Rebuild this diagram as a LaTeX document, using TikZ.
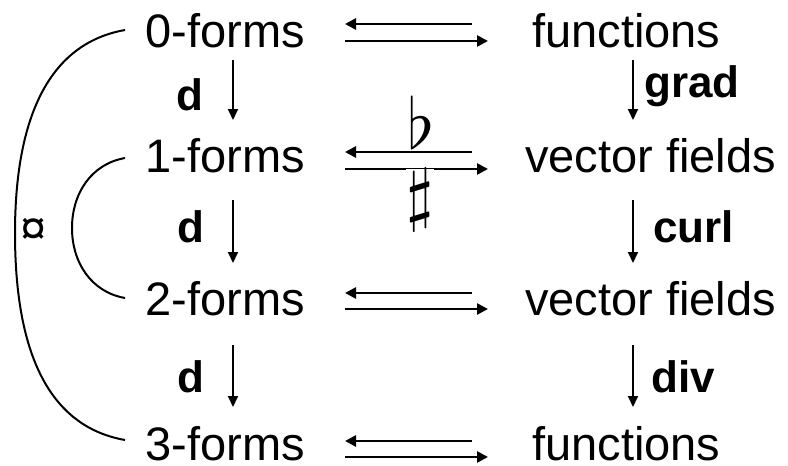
\documentclass[tikz,border=0pt]{standalone}
\usepackage{fontspec}
\setmainfont{Liberation Sans}
\usetikzlibrary{arrows.meta}
\begin{document}
\begin{tikzpicture}[x=1pt,y=-1pt,
  lbl/.style={font=\fontsize{47}{56}\selectfont, inner sep=0pt},
  opl/.style={font=\fontsize{44}{52}\selectfont\bfseries, inner sep=0pt},
  conv/.style={line width=2.6pt, -{Triangle[length=11pt,width=11pt]}},
  dn/.style={line width=2pt, -{Triangle[length=11pt,width=10pt]}},
  bracket/.style={line width=2pt},
  musym/.style={scale=7, inner sep=0pt}]
\useasboundingbox (0,0) rectangle (788,466);
% left column
\node[lbl, anchor=base east] (f0) at (305,47) {0-forms};
\node[lbl, anchor=base east] (f1) at (305,172) {1-forms};
\node[lbl, anchor=base east] (f2) at (305,315) {2-forms};
\node[lbl, anchor=base east] (f3) at (305,460) {3-forms};
% right column
\node[lbl, anchor=base west] (r0) at (532,47) {functions};
\node[lbl, anchor=base west] (r1) at (525,172) {vector fields};
\node[lbl, anchor=base west] (r2) at (525,315) {vector fields};
\node[lbl, anchor=base west] (r3) at (532,460) {functions};
% horizontal pairs of arrows
\foreach \i/\ya/\yb in {0/24/41, 1/152/169, 2/293/309, 3/441/457}{
  \coordinate (tl\i) at (345,\ya);
  \coordinate (tr\i) at (472,\ya);
  \coordinate (bl\i) at (345,\yb);
  \coordinate (br\i) at (488,\yb);
  \draw[conv] (tr\i) -- (tl\i);
  \draw[conv] (bl\i) -- (br\i);
}
% flat and sharp
\node[musym, anchor=base] (flat) at (421,148) {$\flat$};
\node[musym, anchor=north, fill=white] (sharp) at (420,167.4) {$\sharp$};
% vertical arrows
\foreach \i/\ya/\yb in {0/60/120, 1/200/263, 2/345/407}{
  \coordinate (dt\i) at (233,\ya);
  \coordinate (db\i) at (233,\yb);
  \coordinate (vt\i) at (633,\ya);
  \coordinate (vb\i) at (633,\yb);
  \draw[dn] (dt\i) -- (db\i);
  \draw[dn] (vt\i) -- (vb\i);
}
\node[opl, anchor=base] (d0) at (190,110) {d};
\node[opl, anchor=base] (d1) at (191,242) {d};
\node[opl, anchor=base] (d2) at (191,392) {d};
\node[opl, anchor=base west] (grad) at (644,97) {grad};
\node[opl, anchor=base west] (curl) at (653,242) {curl};
\node[opl, anchor=base west] (div) at (651,392) {div};
% left brackets
\coordinate (o0) at (125,30);
\coordinate (o1) at (15,233);
\coordinate (o2) at (125,440);
\coordinate (i0) at (125,158);
\coordinate (i1) at (72,228);
\coordinate (i2) at (125,298);
\draw[bracket] (o0) to[out=190,in=90] (o1) to[out=-90,in=170] (o2);
\draw[bracket] (i0) to[out=190,in=90] (i1) to[out=-90,in=170] (i2);
\node[lbl] (hodge) at (34,231) {¤};
\end{tikzpicture}
\end{document}
